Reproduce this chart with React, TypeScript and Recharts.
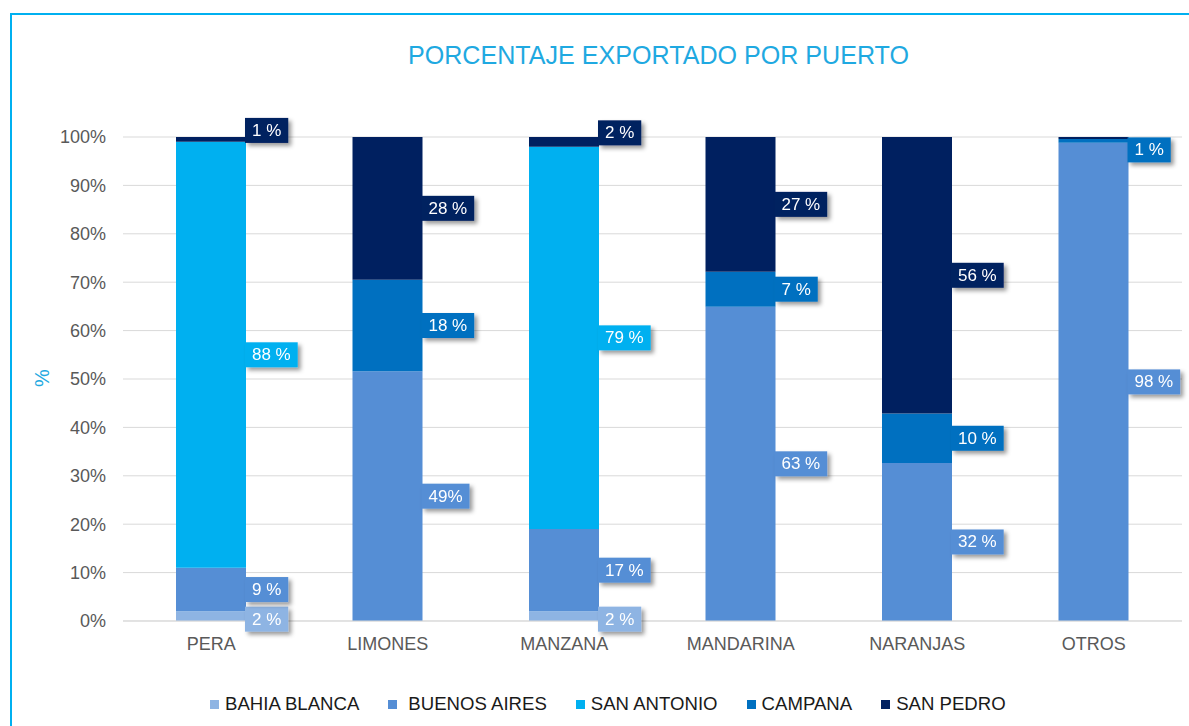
import React from "react";
import {
    BarChart,
    Bar,
    XAxis,
    YAxis,
    CartesianGrid,
    Legend,
    LabelList,
} from "recharts";

const categories = ["PERA", "LIMONES", "MANZANA", "MANDARINA", "NARANJAS", "OTROS"];

const bahiaBlanca = [2, 0, 2, 0, 0, 0];
const buenosAires = [9, 49, 17, 63, 32, 98.6];
const sanAntonio = [88, 0, 79, 0, 0, 0];
const campana = [0, 18, 0, 7, 10, 0.8];
const sanPedro = [1, 28, 2, 27, 56, 0.4];

const bahiaBlancaLabels = ["2 %", "", "2 %", "", "", ""];
const buenosAiresLabels = ["9 %", "49%", "17 %", "63 %", "32 %", "98 %"];
const sanAntonioLabels = ["88 %", "", "79 %", "", "", ""];
const campanaLabels = ["", "18 %", "", "7 %", "10 %", "1 %"];
const sanPedroLabels = ["1 %", "28 %", "2 %", "27 %", "56 %", ""];

const yTicks = [0, 0.1, 0.2, 0.3, 0.4, 0.5, 0.6, 0.7, 0.8, 0.9, 1];

const data = categories.map((name, i) => ({
    name,
    bahiaBlanca: bahiaBlanca[i],
    buenosAires: buenosAires[i],
    sanAntonio: sanAntonio[i],
    campana: campana[i],
    sanPedro: sanPedro[i],
    bahiaBlancaLabel: bahiaBlancaLabels[i],
    buenosAiresLabel: buenosAiresLabels[i],
    sanAntonioLabel: sanAntonioLabels[i],
    campanaLabel: campanaLabels[i],
    sanPedroLabel: sanPedroLabels[i],
}));

const SERIES = [
    { key: "bahiaBlanca", name: "BAHIA BLANCA", color: "#8EB4E3", gap: 6 },
    { key: "buenosAires", name: "BUENOS AIRES", color: "#558ED5", gap: 11 },
    { key: "sanAntonio", name: "SAN ANTONIO", color: "#00B0F0", gap: 6 },
    { key: "campana", name: "CAMPANA", color: "#0070C0", gap: 6 },
    { key: "sanPedro", name: "SAN PEDRO", color: "#002060", gap: 6 },
];

const FONT = "'Liberation Sans', Arial, sans-serif";

// rough arial widths at 17px
function textWidth(s: string) {
    let w = 0;
    for (const c of s) {
        if (c === " ") w += 4.7;
        else if (c === "%") w += 15.1;
        else w += 9.45;
    }
    return w;
}

function makeLabel(color: string, idx: number) {
    return (props: any) => {
        const { x, y, width, height, value } = props;
        if (!value) return null;
        const text = String(value);
        const w = textWidth(text) + 14;
        const h = 25;
        let cy = Number(y) + Number(height) / 2;
        const hh = Math.abs(Number(height));
        if (hh < 12) {
            if (idx === 4) cy -= 9;
            else if (idx === 0) cy += 3;
            else cy += 9;
        }
        const bx = Number(x) + Number(width) - 1;
        return (
            <g filter="url(#lblShadow)">
                <rect x={bx} y={cy - h / 2} width={w} height={h} fill={color} />
                <text
                    x={bx + w / 2}
                    y={cy + 1}
                    textAnchor="middle"
                    dominantBaseline="middle"
                    fill="#ffffff"
                    fontSize={17}
                    fontFamily={FONT}
                >
                    {text}
                </text>
            </g>
        );
    };
}

function LegendContent() {
    return (
        <div
            style={{
                display: "flex",
                alignItems: "center",
                fontFamily: FONT,
                fontSize: 18.6,
                color: "#1a1a1a",
                height: 24,
                paddingLeft: 210,
            }}
        >
            {SERIES.map((s) => (
                <div
                    key={s.key}
                    style={{ display: "flex", alignItems: "center", marginRight: 29 }}
                >
                    <span
                        style={{
                            width: 9,
                            height: 9,
                            background: s.color,
                            marginRight: s.gap,
                            display: "inline-block",
                        }}
                    />
                    <span>{s.name}</span>
                </div>
            ))}
        </div>
    );
}

export default function App() {
    return (
        <div
            style={{
                position: "fixed",
                left: 0,
                top: 0,
                width: 1189,
                height: 726,
                background: "#ffffff",
                overflow: "hidden",
            }}
        >
            <svg width={0} height={0} style={{ position: "absolute" }}>
                <defs>
                    <filter id="lblShadow" x="-20%" y="-30%" width="150%" height="180%">
                        <feDropShadow
                            dx={3}
                            dy={3}
                            stdDeviation={2}
                            floodColor="#000000"
                            floodOpacity={0.4}
                        />
                    </filter>
                </defs>
            </svg>

            <div
                style={{
                    position: "absolute",
                    left: 10,
                    top: 13,
                    width: 1200,
                    height: 800,
                    borderLeft: "2px solid #00B0F0",
                    borderTop: "2px solid #00B0F0",
                }}
            />

            <div
                style={{
                    position: "absolute",
                    left: 0,
                    width: 1317,
                    top: 41,
                    textAlign: "center",
                    fontFamily: FONT,
                    fontSize: 25.1,
                    color: "#1FA9E1",
                }}
            >
                PORCENTAJE EXPORTADO POR PUERTO
            </div>

            <div
                style={{
                    position: "absolute",
                    left: 30,
                    top: 366,
                    width: 24,
                    height: 24,
                    fontFamily: FONT,
                    fontSize: 20,
                    color: "#1FA9E1",
                    transform: "rotate(-90deg)",
                    textAlign: "center",
                    lineHeight: "24px",
                }}
            >
                %
            </div>

            <div style={{ position: "absolute", left: 0, top: 0 }}>
                <BarChart
                    width={1189}
                    height={726}
                    data={data}
                    stackOffset="expand"
                    barSize={70}
                    margin={{ top: 137, right: 7, left: 0, bottom: 51 }}
                >
                    <CartesianGrid vertical={false} stroke="#D9D9D9" />
                    <XAxis
                        dataKey="name"
                        axisLine={{ stroke: "#D9D9D9" }}
                        tickLine={false}
                        tickMargin={10}
                        tick={{ fontSize: 18, fill: "#595959", fontFamily: FONT }}
                    />
                    <YAxis
                        width={123}
                        domain={[0, 1]}
                        ticks={yTicks}
                        axisLine={false}
                        tickLine={false}
                        tickSize={0}
                        tickMargin={17}
                        tickFormatter={(v: number) => `${Math.round(v * 100)}%`}
                        tick={{ fontSize: 18, fill: "#595959", fontFamily: FONT }}
                    />
                    <Legend
                        verticalAlign="bottom"
                        content={<LegendContent />}
                        wrapperStyle={{ bottom: 10, left: 0, width: 1189 }}
                    />
                    {SERIES.map((s, i) => (
                        <Bar
                            key={s.key}
                            dataKey={s.key}
                            name={s.name}
                            stackId="a"
                            fill={s.color}
                            isAnimationActive={false}
                        >
                            <LabelList
                                dataKey={s.key + "Label"}
                                content={makeLabel(s.color, i)}
                            />
                        </Bar>
                    ))}
                </BarChart>
            </div>
        </div>
    );
}
